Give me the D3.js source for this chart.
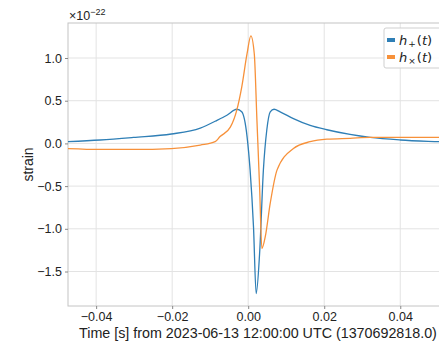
<!DOCTYPE html>
<html>
<head>
<meta charset="utf-8">
<script src="https://cdn.jsdelivr.net/npm/d3@7"></script>
<style>
  body { margin: 0; background: #fff; }
  text { font-family: "Liberation Sans", Arial, Helvetica, sans-serif; fill: #222; }
</style>
</head>
<body>
<script>
// time offsets [s] and strain values (units of 1e-22)
let hpTime = [-0.0474, -0.0389, -0.0302, -0.0202, -0.0126, -0.0082, -0.0056, -0.0030, -0.0017, -0.0003,
              0.0005, 0.0014, 0.0021, 0.0030, 0.0040, 0.0049, 0.0058, 0.0068, 0.0084, 0.0119,
              0.0163, 0.0207, 0.0268, 0.0321, 0.0400, 0.0503, 0.0560];
let hpValue = [0.02, 0.04, 0.07, 0.11, 0.18, 0.27, 0.33, 0.40, 0.37, 0.08,
               -0.31, -0.98, -1.76, -1.29, -0.31, 0.16, 0.37, 0.40, 0.37, 0.29,
               0.21, 0.16, 0.105, 0.07, 0.04, 0.02, 0.01];

let hxTime = [-0.0474, -0.0389, -0.0302, -0.0202, -0.0126, -0.0087, -0.0074, -0.0047, -0.0030, -0.0017, -0.0003,
              0.0007, 0.0016, 0.0023, 0.0030, 0.0036, 0.0045, 0.0058, 0.0076, 0.0119,
              0.0163, 0.0207, 0.0268, 0.0321, 0.0400, 0.0503, 0.0560];
let hxValue = [-0.06, -0.07, -0.07, -0.06, -0.02, 0.02, 0.08, 0.19, 0.39, 0.66, 1.05,
               1.26, 1.05, 0.27, -0.51, -1.23, -1.09, -0.70, -0.31, -0.06,
               0.02, 0.05, 0.06, 0.07, 0.07, 0.07, 0.07];

let xTicks = [-0.04, -0.02, 0.00, 0.02, 0.04];
let yTicks = [-1.5, -1.0, -0.5, 0.0, 0.5, 1.0];
let seriesNames = ["+", "\u00d7"];

let margin = {top: 23, right: -16, bottom: 35, left: 68},
    width = 439 - margin.left - margin.right,
    height = 341 - margin.top - margin.bottom;

let x = d3.scaleLinear().domain([-0.0474, 0.0544]).range([0, width]);
let y = d3.scaleLinear().domain([-1.904, 1.41]).range([height, 0]);

let svg = d3.select("body").append("svg")
    .attr("width", 439)
    .attr("height", 341);
let chart = svg.append("g")
    .attr("transform", "translate(" + margin.left + "," + margin.top + ")");

// grid
chart.append("g").selectAll("line").data(xTicks).enter().append("line")
    .attr("x1", d => x(d)).attr("x2", d => x(d))
    .attr("y1", 0).attr("y2", height)
    .attr("stroke", "#e3e3e3").attr("stroke-width", 1);
chart.append("g").selectAll("line").data(yTicks).enter().append("line")
    .attr("x1", 0).attr("x2", width)
    .attr("y1", d => y(d)).attr("y2", d => y(d))
    .attr("stroke", "#e3e3e3").attr("stroke-width", 1);

// frame
chart.append("rect")
    .attr("width", width).attr("height", height)
    .attr("fill", "none").attr("stroke", "#c4c4c4").attr("stroke-width", 1);

// lines
let line = d3.line()
    .x(d => x(d[0]))
    .y(d => y(d[1]))
    .curve(d3.curveMonotoneX);

chart.append("clipPath").attr("id", "clip")
    .append("rect").attr("width", width).attr("height", height);

let plot = chart.append("g").attr("clip-path", "url(#clip)");
plot.append("path")
    .datum(d3.zip(hpTime, hpValue))
    .attr("d", line)
    .attr("fill", "none").attr("stroke", "#2f7fb6").attr("stroke-width", 1.3);
plot.append("path")
    .datum(d3.zip(hxTime, hxValue))
    .attr("d", line)
    .attr("fill", "none").attr("stroke", "#f7913a").attr("stroke-width", 1.3);

// axes
let xAxis = chart.append("g")
    .attr("transform", "translate(0," + height + ")")
    .call(d3.axisBottom(x).tickValues(xTicks).tickSize(3).tickPadding(3)
        .tickFormat(d => d3.format(".2f")(d).replace("-", "\u2212")));
let yAxis = chart.append("g")
    .call(d3.axisLeft(y).tickValues(yTicks).tickSize(3).tickPadding(3)
        .tickFormat(d => d3.format(".1f")(d).replace("-", "\u2212")));
[xAxis, yAxis].forEach(function(a) {
    a.select(".domain").remove();
    a.selectAll(".tick line").attr("stroke", "#888");
    a.selectAll("text").style("font-size", "12.5px").attr("fill", "#222");
});

// offset text
let off = svg.append("text").attr("x", 69).attr("y", 20).style("font-size", "12.5px");
off.append("tspan").text("\u00d710");
off.append("tspan").attr("dy", -5).style("font-size", "9px").text("\u221222");

// axis labels
svg.append("text")
    .attr("x", 79).attr("y", 338)
    .style("font-size", "14.3px")
    .text("Time [s] from 2023-06-13 12:00:00 UTC (1370692818.0)");
svg.append("text")
    .attr("transform", "translate(33," + (margin.top + height / 2) + ") rotate(-90)")
    .attr("text-anchor", "middle")
    .style("font-size", "14px")
    .text("strain");

// legend
let legend = svg.append("g").attr("transform", "translate(384,28)");
legend.append("rect")
    .attr("width", 80).attr("height", 40).attr("rx", 2)
    .attr("fill", "#fff").attr("fill-opacity", 0.85)
    .attr("stroke", "#cfcfcf");
let colors = ["#2f7fb6", "#f7913a"];
seriesNames.forEach(function(s, i) {
    let g = legend.append("g").attr("transform", "translate(0," + (12 + i * 17) + ")");
    g.append("rect").attr("x", 3).attr("y", -2).attr("width", 8).attr("height", 4).attr("fill", colors[i]);
    let t = g.append("text").attr("x", 15).attr("y", 4.5)
        .style("font-family", "'DejaVu Sans', sans-serif").style("font-size", "13px");
    t.append("tspan").style("font-style", "italic").text("h");
    t.append("tspan").attr("dy", 2).attr("dx", 1).style("font-size", "9px").text(s);
    t.append("tspan").attr("dy", -2).attr("dx", 1).text("(");
    t.append("tspan").style("font-style", "italic").text("t");
    t.append("tspan").text(")");
});
</script>
</body>
</html>
